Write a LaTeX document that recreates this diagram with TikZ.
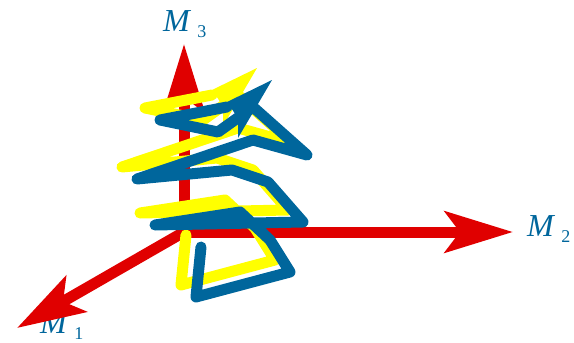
\documentclass[tikz,border=0pt]{standalone}
\usepackage{fontspec}
\setmainfont{Liberation Serif}
\usetikzlibrary{arrows.meta}
\definecolor{axisred}{HTML}{E00000}
\definecolor{trackblue}{HTML}{00669C}
\definecolor{trackyellow}{HTML}{FFFF00}
\tikzset{
	axis/.style={draw=axisred,line width=11pt,-{Stealth[length=68pt,width=41pt,inset=15pt]}},
	track/.style={line width=11pt,line cap=round,line join=round},
	axislabel/.style={text=trackblue,inner sep=0pt,anchor=base west}
}
\newcommand{\axisname}[1]{\fontsize{32}{32}\selectfont\textit{M}\hspace{6pt}\raisebox{-6.5pt}{\fontsize{18}{18}\selectfont #1}}
\begin{document}
\begin{tikzpicture}[x=1pt,y=-1pt]
		\useasboundingbox (0,0) rectangle (574,343);
		\node[axislabel] (labelC) at (163,31) {\axisname{3}};
		\node[axislabel] (labelB) at (527,236) {\axisname{2}};
		\node[axislabel] (labelA) at (40,333) {\axisname{1}};
		\coordinate (origin) at (184,232);
		\coordinate (tipA) at (17,328);
		\coordinate (tipB) at (513,232);
		\coordinate (tipC) at (184,44);
		\draw[axis] (origin) -- (tipA);
		\draw[axis] (origin) -- (tipB);
		\draw[axis] (origin) -- (tipC);
		\foreach \col/\dx/\dy in {trackyellow/-15/-12,trackblue/0/0} {
			\begin{scope}[shift={(\dx,\dy)}]
				\draw[track,\col] (201,247) -- (196,297) -- (290,272) -- (270,240) -- (240,212) -- (155,225) -- (303,222) -- (268,182) -- (232,170) -- (137,179) -- (253,140) -- (307,155) -- (253,107) -- (218,132) -- (160,120) -- (227,107);
				\fill[\col] (227,102) -- (272,80) -- (238,138) -- (238,118) -- cycle;
			\end{scope}
		}
	\end{tikzpicture}
\end{document}
